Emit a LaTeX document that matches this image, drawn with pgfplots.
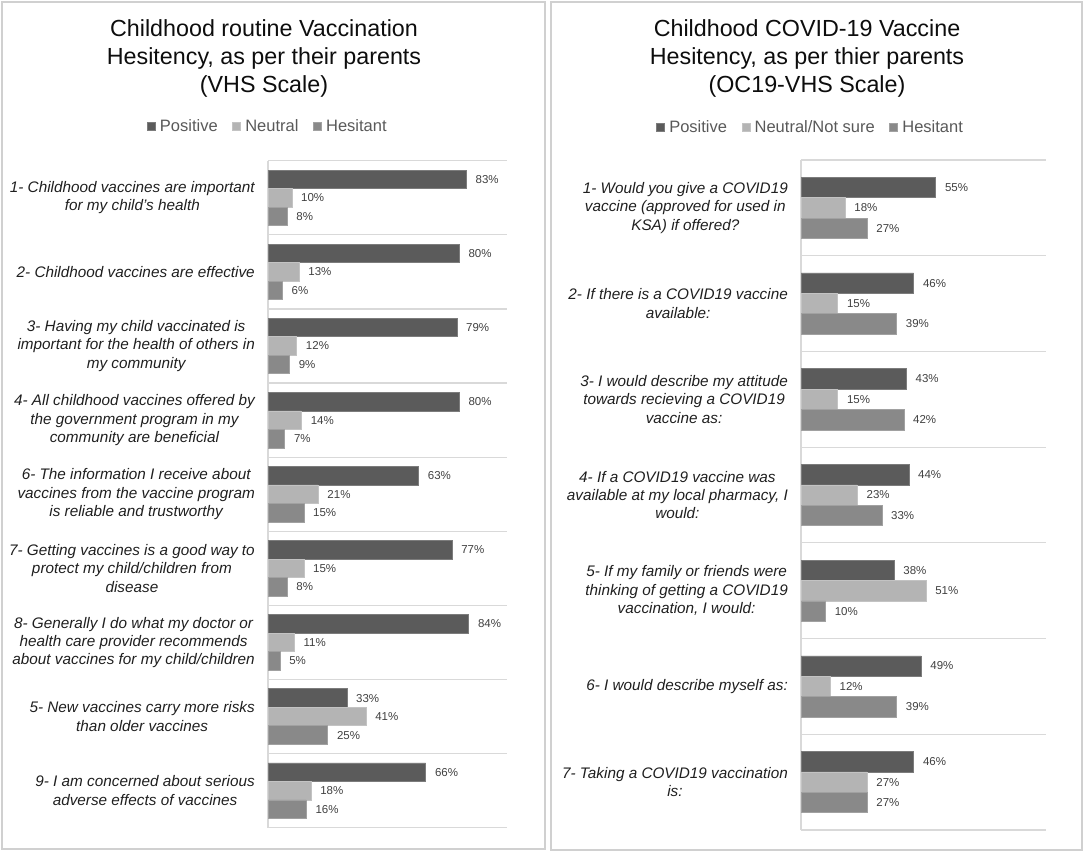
\documentclass[border=0pt]{standalone}
\usepackage{pgfplots}
\pgfplotsset{compat=1.18}
\usepackage{pgfplotstable}
\usepackage{fontspec}
\setmainfont{Liberation Sans}
\definecolor{cPos}{HTML}{5B5B5B}
\definecolor{cNeu}{HTML}{B4B4B4}
\definecolor{cHes}{HTML}{898989}
\definecolor{cGrid}{HTML}{D9D9D9}
\definecolor{cBorder}{HTML}{D0D0D0}
\definecolor{cVal}{HTML}{404040}
\definecolor{cLeg}{HTML}{595959}

% rows numbered from the bottom (0) to the top
\pgfplotstableread{
y pos neu hes
8 83 10 8
7 80 13 6
6 79 12 9
5 80 14 7
4 63 21 15
3 77 15 8
2 84 11 5
1 33 41 25
0 66 18 16
}\leftdata

\pgfplotstableread{
y pos neu hes
6 55 18 27
5 46 15 39
4 43 15 42
3 44 23 33
2 38 51 10
1 49 12 39
0 46 27 27
}\rightdata

\pgfplotsset{
  panel/.style={
    scale only axis, xmin=0, xmax=100,
    /pgf/number format/assume math mode=true,
    axis x line=none, axis y line*=left,
    y axis line style={draw=cGrid, line width=1.2pt},
    major tick length=0pt, minor tick length=0pt,
    yminorgrids, minor grid style={draw=cGrid, line width=1.2pt},
    yticklabel style={font=\fontsize{15.3}{18.3}\itshape\selectfont, align=center, inner sep=0pt, xshift=-13pt, text=black!88},
    clip=false,
    xbar, point meta=x,
    nodes near coords={\pgfmathprintnumber[assume math mode=true]{\pgfplotspointmeta}\%},
    every node near coord/.append style={font=\fontsize{11.5}{13}\selectfont, text=cVal, anchor=west, inner sep=0pt, xshift=9pt},
    legend columns=3,
    legend image code/.code={\fill[##1] (0pt,-4pt) rectangle (8pt,4pt); \path (10pt,0pt);},
    legend style={draw=none, fill=none, font=\fontsize{16.5}{19}\selectfont, text=cLeg,
      /tikz/every even column/.append style={column sep=12pt},
      inner sep=0pt, nodes={inner sep=2.5pt}, anchor=center},
    legend cell align=left,
  }
}

\begin{document}
\begin{tikzpicture}
\path[use as bounding box] (0pt,0pt) rectangle (1084pt,-854pt);
\draw[cBorder, line width=1.2pt] (2pt,-2pt) rectangle (545pt,-849pt);
\draw[cBorder, line width=1.2pt] (551pt,-2pt) rectangle (1082pt,-850pt);

\node[align=center, font=\fontsize{23.3}{28}\selectfont, text=black!95, inner sep=0pt] at (264pt,-58pt)
  {Childhood routine Vaccination\\Hesitency, as per their parents\\(VHS Scale)};
\node[align=center, font=\fontsize{23.3}{28}\selectfont, text=black!95, inner sep=0pt] at (807pt,-58pt)
  {Childhood COVID-19 Vaccine\\Hesitency, as per thier parents\\(OC19-VHS Scale)};

\begin{axis}[panel,
  at={(268pt,-827.7pt)}, anchor=south west, width=239pt, height=667pt,
  ymin=-0.5, ymax=8.5, ytick={0,...,8},
  minor ytick={-0.5,0.5,...,8.5},
  yticklabels={
    {9- I am concerned about serious\\adverse effects of vaccines},
    {5- New vaccines carry more risks\\than older vaccines},
    {8- Generally I do what my doctor or\\health care provider recommends\\about vaccines for my child/children},
    {7- Getting vaccines is a good way to\\protect my child/children from\\disease},
    {6- The information I receive about\\vaccines from the vaccine program\\is reliable and trustworthy},
    {4- All childhood vaccines offered by\\the government program in my\\community are beneficial},
    {3- Having my child vaccinated is\\important for the health of others in\\my community},
    {2- Childhood vaccines are effective},
    {1- Childhood vaccines are important\\for my child’s health}},
  legend style={at={(axis description cs:0.0,1.051)}},
]
\addplot[fill=cPos, draw=cPos!80!white, line width=0.6pt, bar width=18.5pt, bar shift=18.5pt] table[x=pos,y=y]{\leftdata};
\addplot[fill=cNeu, draw=cNeu!80!white, line width=0.6pt, bar width=18.5pt, bar shift=0pt] table[x=neu,y=y]{\leftdata};
\addplot[fill=cHes, draw=cHes!80!white, line width=0.6pt, bar width=18.5pt, bar shift=-18.5pt] table[x=hes,y=y]{\leftdata};
\legend{Positive, Neutral, Hesitant}
\end{axis}

\begin{axis}[panel,
  at={(801pt,-830pt)}, anchor=south west, width=245pt, height=670pt,
  ymin=-0.5, ymax=6.5, ytick={0,...,6},
  minor ytick={-0.5,0.5,...,6.5},
  yticklabels={
    {7- Taking a COVID19 vaccination\\is:},
    {6- I would describe myself as:},
    {5- If my family or friends were\\thinking of getting a COVID19\\vaccination, I would:},
    {4- If a COVID19 vaccine was\\available at my local pharmacy, I\\would:},
    {3- I would describe my attitude\\towards recieving a COVID19\\vaccine as:},
    {2- If there is a COVID19 vaccine\\available:},
    {1- Would you give a COVID19\\vaccine (approved for used in\\KSA) if offered?}},
  legend style={at={(axis description cs:0.04,1.0495)}},
]
\addplot[fill=cPos, draw=cPos!80!white, line width=0.6pt, bar width=20.4pt, bar shift=20.4pt] table[x=pos,y=y]{\rightdata};
\addplot[fill=cNeu, draw=cNeu!80!white, line width=0.6pt, bar width=20.4pt, bar shift=0pt] table[x=neu,y=y]{\rightdata};
\addplot[fill=cHes, draw=cHes!80!white, line width=0.6pt, bar width=20.4pt, bar shift=-20.4pt] table[x=hes,y=y]{\rightdata};
\legend{Positive, Neutral/Not sure, Hesitant}
\end{axis}
\end{tikzpicture}
\end{document}
